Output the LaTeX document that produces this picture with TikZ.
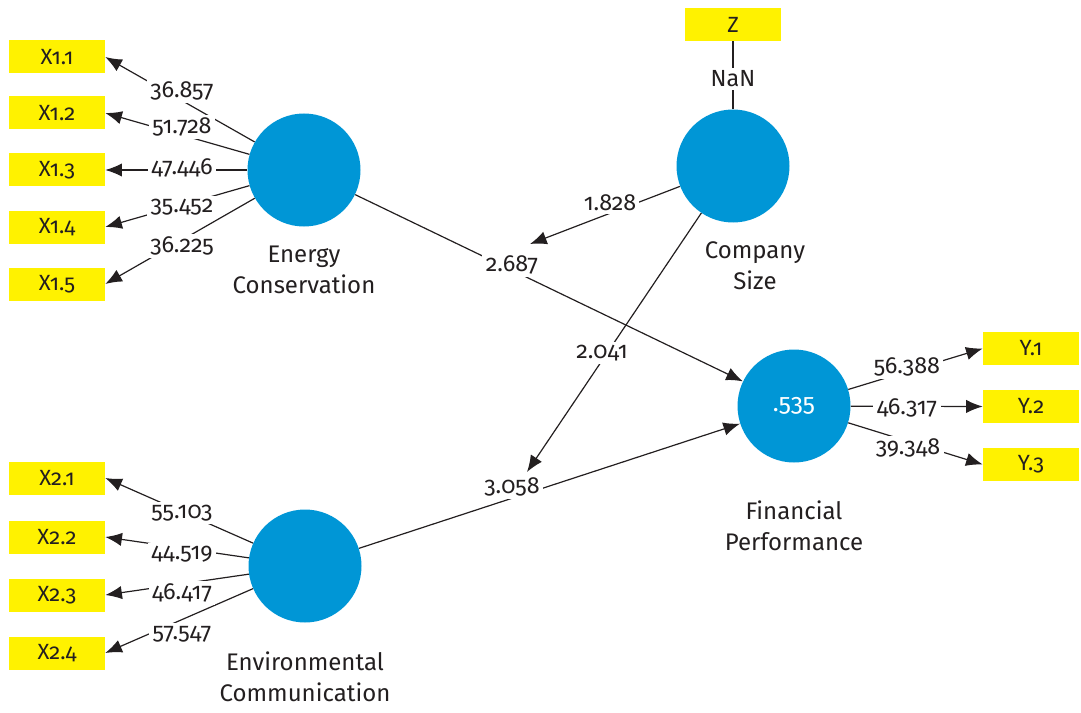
\documentclass[tikz,border=0pt]{standalone}
\usepackage{fontspec}
\setmainfont{Fira Sans}[Numbers=OldStyle]
\usetikzlibrary{arrows.meta}
\definecolor{lvblue}{RGB}{0,150,214}
\definecolor{mvyellow}{RGB}{255,242,0}
\definecolor{ink}{RGB}{35,31,32}

\begin{document}
\begin{tikzpicture}[x=0.75pt,y=-0.75pt,
  latent/.style={circle, fill=lvblue, minimum size=84.75pt, inner sep=0pt},
  manifest/.style={fill=mvyellow, minimum width=72pt, minimum height=24.75pt, inner sep=0pt, text=ink, font=\fontsize{16.5}{18}\selectfont},
  link/.style={draw=ink, line width=0.9pt},
  arr/.style={link, -{Latex[length=12.5pt,width=10pt]}},
  coef/.style={fill=white, inner xsep=2.5pt, inner ysep=2pt, text=ink, font=\fontsize{17.5}{19}\selectfont},
  caption/.style={align=center, text=ink, font=\fontsize{18}{23.25}\selectfont}
]
\useasboundingbox (0,0) rectangle (1081,713);

% latent variables
\node[latent] (EC)  at (304,170) {};
\node[latent] (CS)  at (733,166) {};
\node[latent] (FP)  at (794,406) {\textcolor{white}{\fontsize{18.5}{20}\selectfont .535}};
\node[latent] (ENV) at (305,566) {};

% captions
\node[caption] (ECc)  at (304,270) {Energy\\Conservation};
\node[caption] (CSc)  at (755,266) {Company\\Size};
\node[caption] (FPc)  at (794,526) {Financial\\Performance};
\node[caption] (ENVc) at (305,677) {Environmental\\Communication};

% indicators
\node[manifest] (X11) at (57,57)  {X1.1};
\node[manifest] (X12) at (57,113) {X1.2};
\node[manifest] (X13) at (57,170) {X1.3};
\node[manifest] (X14) at (57,227) {X1.4};
\node[manifest] (X15) at (57,284) {X1.5};
\node[manifest] (X21) at (57,478) {X2.1};
\node[manifest] (X22) at (57,537) {X2.2};
\node[manifest] (X23) at (57,595) {X2.3};
\node[manifest] (X24) at (57,653) {X2.4};
\node[manifest] (Z)   at (733,24.5) {Z};
\node[manifest] (Y1)  at (1031,348.5) {Y.1};
\node[manifest] (Y2)  at (1031,406.5) {Y.2};
\node[manifest] (Y3)  at (1031,464.5) {Y.3};

% targets of the moderating effects
\coordinate (m1) at (530,244);
\coordinate (m2) at (527,472);

% outer loadings
\foreach \x in {X11,X12,X13,X14,X15} \draw[arr] (EC) -- (\x.east);
\foreach \x in {X21,X22,X23,X24} \draw[arr] (ENV) -- (\x.east);
\foreach \y in {Y1,Y2,Y3} \draw[arr] (FP) -- (\y.west);
\draw[link] (Z) -- (CS);

% structural paths
\draw[arr] (EC) -- (FP);
\draw[arr] (ENV) -- (FP);
\draw[arr] (CS) -- (m1);
\draw[arr] (CS) -- (m2);

% coefficient labels
\node[coef] (l11) at (182,91)  {36.857};
\node[coef] (l12) at (182,127) {51.728};
\node[coef] (l13) at (182,168) {47.446};
\node[coef] (l14) at (182,207) {35.452};
\node[coef] (l15) at (182,246) {36.225};
\node[coef] (l21) at (182,513) {55.103};
\node[coef] (l22) at (182,554) {44.519};
\node[coef] (l23) at (182,593) {46.417};
\node[coef] (l24) at (182,634) {57.547};
\node[coef] (ly1) at (907,367) {56.388};
\node[coef] (ly2) at (907,408) {46.317};
\node[coef] (ly3) at (908,448) {39.348};
\node[coef] (lz)  at (733,79)  {NaN};
\node[coef] (c1)  at (512,265) {2.687};
\node[coef] (c2)  at (512,487) {3.058};
\node[coef] (c3)  at (610,203) {1.828};
\node[coef] (c4)  at (602,353) {2.041};
\end{tikzpicture}
\end{document}
